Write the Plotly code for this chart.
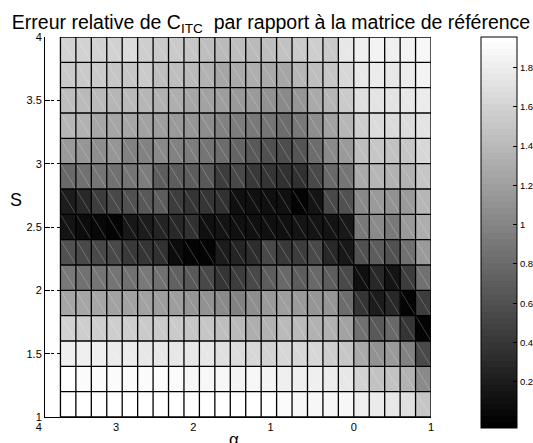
import plotly.graph_objects as go

# ---- data ----
alpha_edges = [-3.8, -3.6, -3.4, -3.2, -3.0, -2.8, -2.6, -2.4, -2.2, -2.0, -1.8, -1.6,
               -1.4, -1.2, -1.0, -0.8, -0.6, -0.4, -0.2, 0.0, 0.2, 0.4, 0.6, 0.8, 1.0]
s_edges = [1.0, 1.2, 1.4, 1.6, 1.8, 2.0, 2.2, 2.4, 2.6, 2.8, 3.0, 3.2, 3.4, 3.6, 3.8, 4.0]

# relative error, rows from S=1.0-1.2 (bottom) to S=3.8-4.0 (top)
err = [
    [1.95, 1.95, 1.95, 1.95, 1.95, 1.95, 1.95, 1.95, 1.95, 1.95, 1.95, 1.95,
     1.95, 1.93, 1.90, 1.88, 1.88, 1.88, 1.88, 1.81, 1.78, 1.74, 1.68, 1.51],
    [1.93, 1.92, 1.92, 1.92, 1.92, 1.90, 1.90, 1.90, 1.89, 1.89, 1.88, 1.86,
     1.88, 1.84, 1.81, 1.81, 1.81, 1.78, 1.74, 1.59, 1.46, 1.46, 1.34, 1.03],
    [1.82, 1.80, 1.80, 1.78, 1.78, 1.76, 1.76, 1.76, 1.74, 1.74, 1.70, 1.67,
     1.62, 1.59, 1.62, 1.62, 1.62, 1.56, 1.49, 1.28, 1.09, 1.15, 0.96, 0.53],
    [1.60, 1.56, 1.56, 1.56, 1.56, 1.53, 1.53, 1.53, 1.49, 1.49, 1.45, 1.41,
     1.33, 1.35, 1.40, 1.40, 1.35, 1.35, 1.21, 0.84, 0.65, 0.78, 0.40, 0.00],
    [1.25, 1.25, 1.25, 1.23, 1.23, 1.21, 1.18, 1.18, 1.14, 1.10, 1.04, 0.96,
     1.06, 1.15, 1.18, 1.15, 1.12, 1.14, 0.81, 0.40, 0.21, 0.28, 0.00, 0.46],
    [0.92, 0.86, 0.87, 0.87, 0.85, 0.90, 0.85, 0.73, 0.67, 0.53, 0.37, 0.46,
     0.53, 0.71, 0.78, 0.71, 0.78, 0.71, 0.53, 0.09, 0.28, 0.15, 0.46, 0.84],
    [0.59, 0.53, 0.53, 0.53, 0.43, 0.40, 0.36, 0.08, 0.00, 0.00, 0.20, 0.25,
     0.31, 0.53, 0.43, 0.46, 0.53, 0.28, 0.18, 0.59, 0.71, 0.59, 0.84, 1.15],
    [0.15, 0.08, 0.04, 0.00, 0.18, 0.21, 0.25, 0.28, 0.34, 0.12, 0.15, 0.09,
     0.12, 0.12, 0.11, 0.15, 0.15, 0.14, 0.18, 0.90, 1.03, 0.90, 1.15, 1.31],
    [0.21, 0.28, 0.46, 0.53, 0.59, 0.65, 0.69, 0.46, 0.40, 0.40, 0.34, 0.12,
     0.12, 0.12, 0.12, 0.00, 0.15, 0.53, 0.59, 1.03, 1.15, 1.09, 1.15, 1.37],
    [0.78, 0.84, 0.87, 0.84, 0.87, 0.93, 0.69, 0.71, 0.69, 0.65, 0.46, 0.53,
     0.43, 0.40, 0.34, 0.34, 0.53, 0.78, 0.87, 1.28, 1.37, 1.34, 1.34, 1.49],
    [1.15, 1.12, 1.06, 1.12, 0.99, 0.99, 1.03, 0.96, 0.93, 0.87, 0.81, 0.75,
     0.65, 0.59, 0.56, 0.62, 0.81, 1.03, 1.15, 1.43, 1.49, 1.46, 1.49, 1.62],
    [1.37, 1.34, 1.25, 1.25, 1.25, 1.21, 1.18, 1.15, 1.12, 1.06, 0.99, 0.93,
     0.90, 0.87, 0.81, 0.90, 1.06, 1.21, 1.37, 1.56, 1.65, 1.65, 1.65, 1.71],
    [1.43, 1.40, 1.40, 1.37, 1.40, 1.37, 1.34, 1.31, 1.25, 1.21, 1.18, 1.15,
     1.15, 1.09, 1.03, 1.12, 1.28, 1.37, 1.53, 1.68, 1.71, 1.71, 1.74, 1.78],
    [1.53, 1.53, 1.53, 1.49, 1.49, 1.53, 1.43, 1.43, 1.40, 1.34, 1.25, 1.28,
     1.31, 1.28, 1.25, 1.37, 1.43, 1.49, 1.62, 1.74, 1.78, 1.74, 1.78, 1.84],
    [1.59, 1.59, 1.60, 1.60, 1.67, 1.56, 1.53, 1.53, 1.49, 1.43, 1.40, 1.45,
     1.40, 1.45, 1.48, 1.53, 1.56, 1.53, 1.74, 1.82, 1.84, 1.82, 1.84, 1.88],
]

x_tick_vals = [-4, -3, -2, -1, 0, 1]
x_tick_text = ["4", "3", "2", "1", "0", "1"]
y_tick_vals = [1, 1.5, 2, 2.5, 3, 3.5, 4]
y_tick_text = ["1", "1.5", "2", "2.5", "3", "3.5", "4"]
cbar_tick_vals = [0.2, 0.4, 0.6, 0.8, 1.0, 1.2, 1.4, 1.6, 1.8]
cbar_tick_text = ["0.2", "0.4", "0.6", "0.8", "1", "1.2", "1.4", "1.6", "1.8"]
c_min, c_max = -0.035, 1.955

title_text = "Erreur relative de C<sub>ITC</sub>\u00a0 par rapport à la matrice de référence"

FONT = "Liberation Sans, Arial, Helvetica, sans-serif"

# MATLAB-like gray(64) discrete colormap
n_levels = 64
gray_scale = []
for i in range(n_levels):
    g = round(255 * i / (n_levels - 1))
    c = f"rgb({g},{g},{g})"
    gray_scale.append([i / n_levels, c])
    gray_scale.append([(i + 1) / n_levels, c])

# minus signs of the reference labels are invisible; digits sit left of the tick
pad = "\u00a0" * 4
x_tick_shown = [t + (pad if v < 0 else "") for t, v in zip(x_tick_text, x_tick_vals)]

fig = go.Figure()

fig.add_trace(go.Heatmap(
    x=alpha_edges, y=s_edges, z=err,
    zmin=c_min, zmax=c_max, colorscale=gray_scale, zsmooth=False,
    hoverinfo="skip",
    colorbar=dict(
        x=1.1307, xanchor="left", xref="paper",
        y=0.4855, yanchor="middle", yref="paper",
        thickness=36, thicknessmode="pixels",
        len=391, lenmode="pixels",
        outlinewidth=1, outlinecolor="black",
        ticks="inside", ticklen=4, tickcolor="black", tickwidth=1,
        tickvals=cbar_tick_vals, ticktext=cbar_tick_text,
        tickfont=dict(family=FONT, size=9.5, color="black"),
        xpad=0, ypad=0,
    ),
))

# cell diagonals (triangulation edges, faint)
dx, dy = [], []
for j in range(len(s_edges) - 1):
    for i in range(len(alpha_edges) - 1):
        dx += [alpha_edges[i], alpha_edges[i + 1], None]
        dy += [s_edges[j + 1], s_edges[j], None]
fig.add_trace(go.Scatter(x=dx, y=dy, mode="lines",
                         line=dict(color="rgba(255,255,255,0.28)", width=0.8),
                         hoverinfo="skip", showlegend=False))

# black face edges
gx, gy = [], []
for xe in alpha_edges:
    gx += [xe, xe, None]
    gy += [s_edges[0], s_edges[-1], None]
for ye in s_edges:
    gx += [alpha_edges[0], alpha_edges[-1], None]
    gy += [ye, ye, None]
fig.add_trace(go.Scatter(x=gx, y=gy, mode="lines",
                         line=dict(color="black", width=1.3),
                         hoverinfo="skip", showlegend=False))

fig.update_layout(
    width=533, height=443,
    margin=dict(l=45, r=101.5, t=37, b=26, pad=0, autoexpand=False),
    paper_bgcolor="white", plot_bgcolor="white",
    font=dict(family=FONT, color="black"),
    showlegend=False,
    title=dict(text=title_text, x=271 / 533, xanchor="center", xref="container",
               y=1 - 22 / 443, yanchor="middle", yref="container",
               font=dict(family=FONT, size=19.5, color="black")),
    xaxis=dict(range=[-4, 1], tickvals=x_tick_vals, ticktext=x_tick_shown,
               ticks="", showgrid=False, zeroline=False,
               showline=True, linecolor="black", linewidth=1,
               tickfont=dict(family=FONT, size=11, color="black")),
    yaxis=dict(range=[1, 4], tickvals=y_tick_vals, ticktext=y_tick_text,
               ticks="inside", ticklen=5, tickcolor="black", tickwidth=1,
               showgrid=True, gridcolor="black", gridwidth=1, griddash="dot",
               zeroline=False, showline=True, linecolor="black", linewidth=1,
               tickfont=dict(family=FONT, size=11, color="black")),
    annotations=[
        dict(text="S", x=-0.075, y=0.571, xref="paper", yref="paper",
             xanchor="center", yanchor="middle", showarrow=False,
             font=dict(family=FONT, size=18, color="black")),
        dict(text="α", x=(234 - 45) / 386.5, y=-0.03, xref="paper", yref="paper",
             xanchor="center", yanchor="top", showarrow=False,
             font=dict(family=FONT, size=17, color="black")),
    ],
)

fig.write_html("out.html")
